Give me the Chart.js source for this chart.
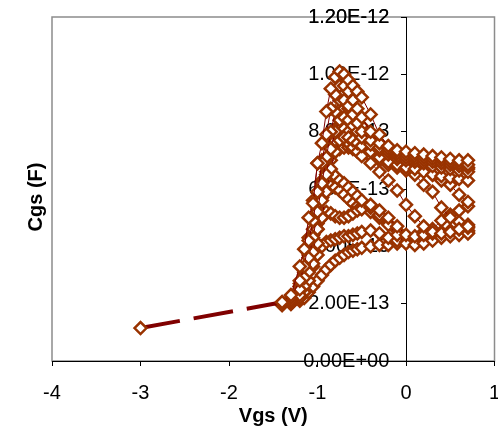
<!DOCTYPE html>
<html>
<head>
<meta charset="utf-8">
<script src="https://cdn.jsdelivr.net/npm/chart.js@4.4.0/dist/chart.umd.min.js"></script>
<style>
  html, body { margin: 0; padding: 0; background: #fff; overflow: hidden; }
  /* a few px wider than the window: the "1" end label runs off the edge, as in the original */
  #wrap { width: 503px; height: 430px; }
</style>
</head>
<body>
<div id="wrap"><canvas id="cgsChart"></canvas></div>
<script>
// Vgs sweep points (V), shared by every measured curve
const vgs = [-1.4, -1.3, -1.2, -1.15, -1.1, -1.05, -1.0, -0.95, -0.9, -0.85, -0.8, -0.75, -0.7, -0.65,
  -0.6, -0.55, -0.5, -0.4, -0.3, -0.2, -0.1, 0, 0.1, 0.2, 0.3, 0.4, 0.5, 0.6, 0.7];

// Cgs curves, in units of 1e-13 F
const cgsA = [2.05, 2.3, 3.3, 3.9, 5.0, 5.5, 6.9, 7.6, 8.7, 9.5, 9.9, 10.1, 10.0, 9.8, 9.6, 9.4, 9.2, 8.6, 7.9, 7.5, 7.35, 7.3, 7.25, 7.2, 7.15, 7.1, 7.05, 7.0, 7.0];
const cgsB = [2.05, 2.2, 2.8, 3.3, 4.2, 4.9, 5.9, 6.9, 7.9, 8.8, 9.3, 9.6, 9.6, 9.4, 9.1, 8.8, 8.5, 8.0, 7.6, 7.4, 7.25, 7.2, 7.15, 7.1, 7.05, 7.0, 6.95, 6.9, 6.85];
const cgsC = [2.0, 2.1, 2.5, 2.9, 3.6, 4.3, 5.2, 6.2, 7.1, 8.0, 8.7, 9.1, 9.1, 8.9, 8.6, 8.3, 8.0, 7.7, 7.45, 7.3, 7.15, 7.1, 7.05, 7.0, 6.95, 6.9, 6.85, 6.8, 6.75];
const cgsD = [2.0, 2.05, 2.3, 2.6, 3.1, 3.8, 4.6, 5.6, 6.5, 7.4, 8.0, 8.4, 8.5, 8.4, 8.2, 8.0, 7.8, 7.55, 7.35, 7.2, 7.05, 7.0, 6.95, 6.9, 6.8, 6.75, 6.7, 6.65, 6.6];
const cgsE = [1.95, 2.0, 2.2, 2.4, 2.8, 3.4, 4.1, 5.0, 5.9, 6.7, 7.3, 7.7, 7.8, 7.8, 7.7, 7.6, 7.5, 7.3, 7.1, 6.95, 6.85, 6.75, 6.7, 6.6, 6.5, 6.45, 6.4, 6.35, 6.3];
const cgsF = [2.0, 2.15, 2.6, 3.0, 3.8, 4.6, 5.5, 6.3, 7.0, 7.5, 7.7, 7.75, 7.7, 7.6, 7.45, 7.3, 7.15, 6.9, 6.6, 6.3, 5.95, 5.45, 5.05, 4.7, 4.5, 4.45, 4.5, 4.6, 4.7];
const cgsG = [2.0, 2.1, 2.4, 2.8, 3.4, 4.1, 5.0, 5.8, 6.5, 7.0, 7.3, 7.4, 7.45, 7.45, 7.4, 7.35, 7.3, 7.15, 7.0, 6.85, 6.75, 6.65, 6.5, 6.15, 5.9, 5.35, 5.0, 4.85, 4.75];
const cgsH = [2.0, 2.2, 2.7, 3.1, 3.7, 4.4, 5.3, 6.1, 6.9, 7.5, 7.9, 8.1, 8.1, 8.0, 7.85, 7.7, 7.6, 7.4, 7.2, 7.1, 7.0, 6.9, 6.8, 6.7, 6.5, 6.3, 6.15, 5.8, 5.55];
const cgsI = [2.0, 2.1, 2.6, 3.2, 4.3, 5.6, 6.9, 7.0, 6.8, 6.6, 6.45, 6.3, 6.2, 6.05, 5.9, 5.75, 5.6, 5.45, 5.25, 5.0, 4.7, 4.4, 4.35, 4.4, 4.45, 4.5, 4.55, 4.6, 4.65];
const cgsJ = [2.0, 2.05, 2.3, 2.7, 3.3, 4.0, 4.6, 5.0, 5.2, 5.15, 5.05, 5.0, 5.0, 5.05, 5.15, 5.25, 5.3, 5.35, 5.1, 4.75, 4.4, 4.1, 4.05, 4.1, 4.2, 4.3, 4.35, 4.4, 4.45];
const cgsK = [2.0, 2.0, 2.2, 2.4, 2.8, 3.3, 3.7, 4.0, 4.15, 4.2, 4.25, 4.3, 4.35, 4.35, 4.4, 4.45, 4.5, 4.55, 4.45, 4.3, 4.2, 4.15, 4.3, 4.5, 4.6, 4.9, 5.1, 5.25, 5.4];
const cgsL = [1.95, 2.0, 2.1, 2.2, 2.4, 2.6, 2.8, 3.0, 3.2, 3.35, 3.5, 3.6, 3.7, 3.8, 3.85, 3.9, 3.95, 4.0, 4.05, 4.05, 4.1, 4.15, 4.2, 4.25, 4.3, 4.35, 4.4, 4.45, 4.5];
const cgsM = [2.0, 2.1, 2.45, 2.9, 3.6, 4.4, 5.2, 5.7, 6.0, 6.1, 6.05, 5.95, 5.8, 5.65, 5.5, 5.4, 5.3, 5.2, 5.0, 4.8, 4.55, 4.3, 4.25, 4.3, 4.35, 4.4, 4.45, 4.5, 4.55];
const cgsN = [2.0, 2.15, 2.5, 2.8, 3.3, 3.9, 4.8, 5.7, 6.6, 7.4, 8.1, 8.6, 8.8, 8.8, 8.6, 8.4, 8.2, 7.8, 7.5, 7.3, 7.15, 7.05, 7.0, 6.95, 6.9, 6.85, 6.8, 6.75, 6.7];
const curves = [cgsA, cgsB, cgsC, cgsD, cgsE, cgsF, cgsG, cgsH, cgsI, cgsJ, cgsK, cgsL, cgsM, cgsN];

// the lone point at -3 V joined by the dashed segment
const dashVgs = [-3, -1.4];
const dashCgs = [1.15, 2.05];

const xTicks = [-4, -3, -2, -1, 0, 1];

const MARKER = '#993300';
const LINE = '#800000';

function sciLabel(v) {
  let s;
  if (Math.abs(v) < 1e-20) {
    s = '0.00E+00';
  } else {
    const parts = v.toExponential(2).split('e');
    const exp = parseInt(parts[1], 10);
    s = parts[0] + 'E' + (exp < 0 ? '-' : '+') + String(Math.abs(exp)).padStart(2, '0');
  }
  return s + '   '; // keeps the label clear of the crossing axis
}

function toPoints(xs, ys) {
  return xs.map((x, i) => ({ x: x, y: ys[i] * 1e-13 }));
}

function noSidePad(axis) {
  axis.paddingRight = 0;
  axis.paddingLeft = 0;
}

const markerStyle = {
  pointStyle: 'rectRot',
  pointRadius: 6,
  pointBorderWidth: 2.5,
  pointBorderColor: MARKER,
  pointBackgroundColor: '#fff',
  pointHoverRadius: 6
};

const datasets = [{
  data: toPoints(dashVgs, dashCgs),
  showLine: true,
  borderColor: LINE,
  borderWidth: 4,
  borderDash: [40, 14],
  ...markerStyle
}];
curves.forEach(c => {
  datasets.push({
    data: toPoints(vgs, c),
    showLine: true,
    borderColor: LINE,
    borderWidth: 1,
    ...markerStyle
  });
});

// grey frame round the plot area (bottom edge is covered by the x axis)
const plotFrame = {
  id: 'plotFrame',
  afterLayout(chart) {
    // Excel puts the rotated axis title a little below the plot middle
    chart.scales.yTitle.top += 16;
  },
  beforeDraw(chart) {
    const { ctx, chartArea: a } = chart;
    ctx.save();
    ctx.strokeStyle = '#8c8c8c';
    ctx.lineWidth = 1.5;
    ctx.strokeRect(a.left, a.top, a.right - a.left, a.bottom - a.top);
    ctx.restore();
  }
};

const font = { family: '"Liberation Sans", Arial, sans-serif', size: 20 };
const boldFont = { family: '"Liberation Sans", Arial, sans-serif', size: 20, weight: 'bold' };

new Chart(document.getElementById('cgsChart'), {
  type: 'scatter',
  data: { datasets: datasets },
  plugins: [plotFrame],
  options: {
    responsive: true,
    maintainAspectRatio: false,
    animation: false,
    layout: { padding: { left: 24, top: 17, right: 4, bottom: 2 } },
    plugins: {
      legend: { display: false },
      tooltip: { enabled: false }
    },
    scales: {
      x: {
        type: 'linear',
        position: 'bottom',
        min: -4,
        max: 1,
        afterBuildTicks: axis => { axis.ticks = xTicks.map(v => ({ value: v })); },
        afterFit: noSidePad,
        ticks: { font: font, color: '#000', padding: 15 },
        grid: { drawOnChartArea: false, drawTicks: true, tickLength: 5, color: '#000' },
        border: { display: true, color: '#000', width: 1 },
        title: { display: true, text: 'Vgs (V)', font: boldFont, color: '#000', padding: { top: -16, bottom: 0 } }
      },
      y: {
        type: 'linear',
        position: { x: 0 },
        min: 0,
        max: 1.2e-12,
        afterFit: noSidePad,
        ticks: { stepSize: 2e-13, font: font, color: '#000', callback: v => sciLabel(v) },
        grid: { drawOnChartArea: false, drawTicks: true, tickLength: 5, color: '#000' },
        border: { display: true, color: '#000', width: 1 }
      },
      yTitle: {
        type: 'linear',
        position: 'left',
        display: true,
        afterFit: noSidePad,
        ticks: { display: false },
        grid: { display: false, drawTicks: false },
        border: { display: false },
        title: { display: true, text: 'Cgs (F)', font: boldFont, color: '#000', padding: { top: 0, bottom: 4 } }
      }
    }
  }
});
</script>
</body>
</html>
